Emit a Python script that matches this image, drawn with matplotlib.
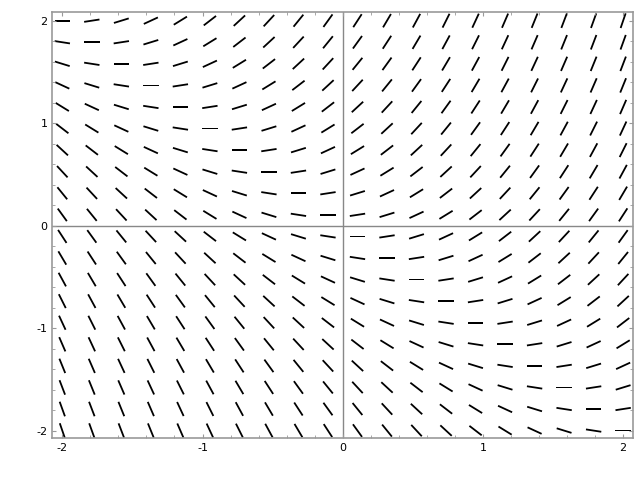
import numpy as np
import matplotlib.pyplot as plt
from matplotlib.ticker import MultipleLocator

plt.rcParams["axes.unicode_minus"] = False

# Trường hướng của phương trình dy/dx = x + y
x_points = np.linspace(-2, 2, 20)
y_points = np.linspace(-2, 2, 20)
x_ticks = [-2, -1, 0, 1, 2]
y_ticks = [-2, -1, 0, 1, 2]


def slope(x, y):
    return x + y


X, Y = np.meshgrid(x_points, y_points)
F = slope(X, Y)
U = 1 / np.sqrt(1 + F ** 2)
V = F / np.sqrt(1 + F ** 2)

fig = plt.figure(figsize=(6.4, 4.8), dpi=100)
ax = fig.add_axes([0.082, 0.088, 0.907, 0.886])

ax.quiver(X, Y, U, V, pivot="middle", angles="xy", scale_units="dots",
          scale=1 / 15.5, units="dots", width=1.8,
          headwidth=0, headlength=0, headaxislength=0, color="black")

ax.axhline(0, color="#888888", linewidth=1, zorder=0)
ax.axvline(0, color="#888888", linewidth=1, zorder=0)

ax.set_xlim(-2.07, 2.07)
ax.set_ylim(-2.07, 2.08)
ax.set_xticks(x_ticks)
ax.set_yticks(y_ticks)
ax.xaxis.set_minor_locator(MultipleLocator(0.2))
ax.yaxis.set_minor_locator(MultipleLocator(0.2))
ax.tick_params(which="both", direction="in", top=True, right=True,
               colors="#999999", labelcolor="black", labelsize=8)
ax.tick_params(which="major", length=3, width=0.8)
ax.tick_params(which="minor", length=2, width=0.6)
for s in ax.spines.values():
    s.set_color("#999999")
    s.set_linewidth(1.2)

plt.savefig("out.png", dpi=100)
